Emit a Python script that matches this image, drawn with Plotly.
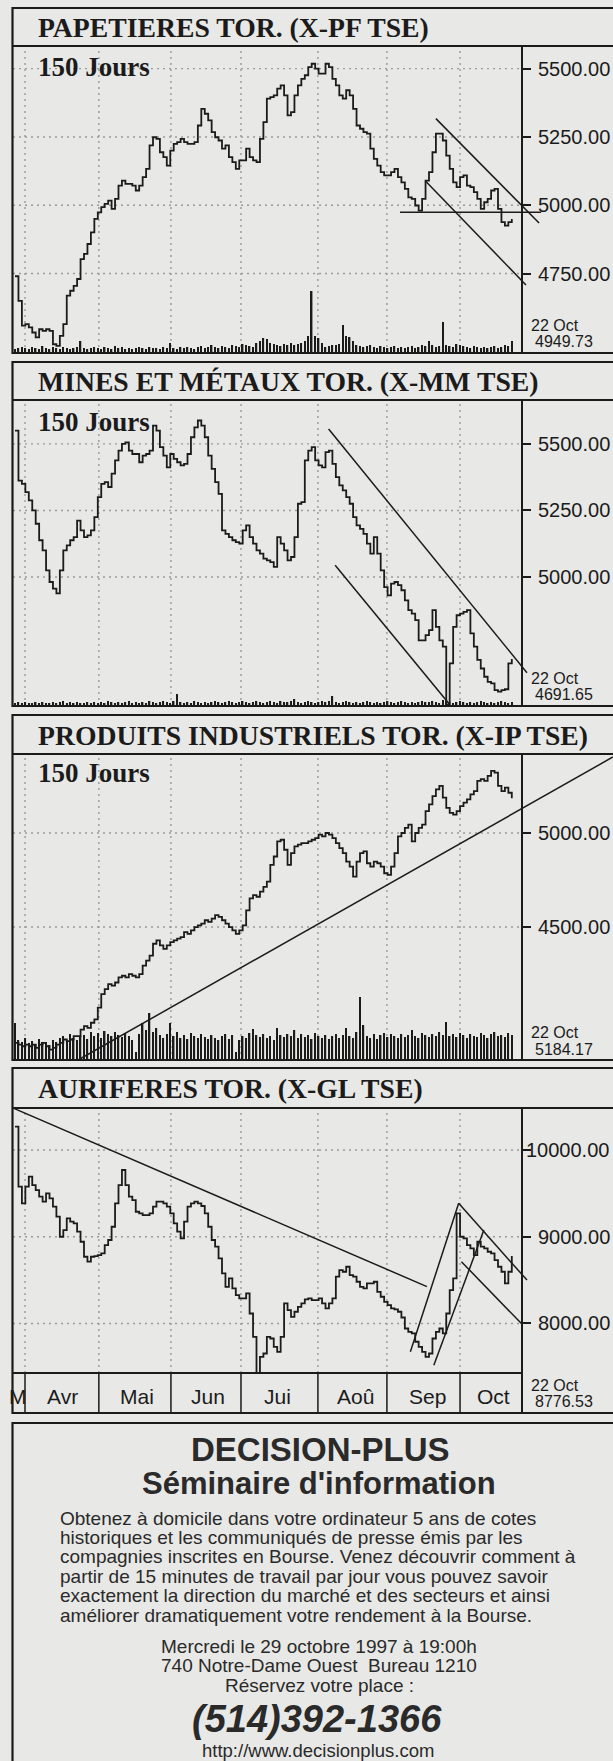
import plotly.graph_objects as go

W, H = 613, 1761
INK = "#1b1b1b"
AD_INK = "#2a2a2a"
GRID = "#9a9a9a"
BG = "#e8e8e6"
SERIF = "Liberation Serif, 'Times New Roman', serif"
SANS = "Liberation Sans, Arial, Helvetica, sans-serif"

# ---------------- data ----------------
titles = ["PAPETIERES TOR. (X-PF TSE)", "MINES ET MÉTAUX TOR. (X-MM TSE)",
          "PRODUITS INDUSTRIELS TOR. (X-IP TSE)", "AURIFERES TOR. (X-GL TSE)"]
period_label = "150 Jours"
last_date = "22 Oct"

pf_close = [4740, 4650, 4559, 4565, 4553, 4534, 4516, 4546, 4540, 4546,
            4540, 4491, 4485, 4522, 4565, 4669, 4687, 4705, 4730, 4803,
            4822, 4858, 4901, 4950, 4974, 4993, 5005, 5017, 4987, 5023,
            5072, 5090, 5078, 5078, 5072, 5054, 5072, 5103, 5133, 5219,
            5249, 5243, 5194, 5176, 5145, 5200, 5225, 5231, 5243, 5231,
            5225, 5225, 5231, 5292, 5353, 5335, 5311, 5268, 5249, 5237,
            5207, 5219, 5176, 5158, 5133, 5164, 5164, 5207, 5176, 5164,
            5158, 5243, 5304, 5390, 5396, 5402, 5427, 5439, 5402, 5329,
            5341, 5402, 5439, 5463, 5476, 5506, 5518, 5500, 5482, 5482,
            5518, 5506, 5463, 5439, 5402, 5390, 5421, 5402, 5353, 5292,
            5280, 5268, 5262, 5207, 5170, 5145, 5121, 5109, 5109, 5121,
            5133, 5103, 5084, 5060, 5029, 5023, 4999, 4980, 5023, 5090,
            5121, 5194, 5262, 5262, 5237, 5182, 5133, 5084, 5066, 5103,
            5109, 5072, 5066, 5048, 5023, 4987, 5011, 5023, 5054, 5060,
            4987, 4938, 4925, 4938, 4949.73]
pf_volume = [4, 5, 6, 5, 4, 6, 5, 4, 7, 5, 4, 6, 5, 4, 6, 5, 4, 5, 6, 12, 5,
             4, 5, 6, 5, 4, 6, 5, 4, 7, 5, 6, 4, 5, 4, 5, 6, 5, 4, 6, 5,
             5, 4, 6, 5, 10, 5, 4, 6, 5, 6, 5, 4, 6, 7, 5, 6, 8, 6, 5, 7,
             6, 5, 8, 7, 6, 9, 8, 7, 6, 10, 12, 15, 14, 10, 9, 8, 7, 9, 8, 10,
             8, 9, 10, 12, 17, 62, 17, 15, 10, 6, 7, 8, 8, 9, 28, 17, 16, 12, 8, 7,
             6, 7, 8, 6, 5, 7, 6, 5, 6, 7, 5, 6, 5, 6, 7, 5, 6, 8, 7, 12,
             8, 6, 7, 31, 8, 7, 6, 9, 8, 7, 6, 5, 7, 6, 5, 6, 5, 6, 7, 5, 6, 8, 7, 12]
pf_ticks = [4750, 5000, 5250, 5500]
pf_trends = [(111.6, 4974, 152.5, 4974), (122.0, 5317, 151.9, 4935), (118.9, 5090, 148.1, 4708)]

mm_close = [5550, 5362, 5350, 5319, 5288, 5250, 5200, 5138, 5100, 5025,
            4981, 4956, 4938, 5025, 5100, 5119, 5138, 5150, 5212, 5175,
            5150, 5156, 5175, 5225, 5300, 5350, 5356, 5338, 5388, 5438,
            5475, 5500, 5506, 5475, 5462, 5462, 5431, 5456, 5462, 5475,
            5569, 5550, 5488, 5456, 5412, 5462, 5444, 5431, 5419, 5425,
            5462, 5525, 5562, 5588, 5569, 5525, 5456, 5406, 5356, 5312,
            5175, 5162, 5150, 5138, 5131, 5125, 5175, 5194, 5150, 5125,
            5100, 5088, 5069, 5062, 5056, 5038, 5150, 5125, 5100, 5062,
            5075, 5150, 5275, 5281, 5438, 5475, 5488, 5438, 5419, 5412,
            5469, 5475, 5425, 5375, 5344, 5325, 5300, 5275, 5225, 5194,
            5181, 5162, 5125, 5088, 5150, 5088, 5025, 4962, 4931, 4975,
            4981, 4969, 4950, 4912, 4875, 4862, 4838, 4762, 4762, 4781,
            4800, 4875, 4812, 4762, 4738, 4520, 4675, 4812, 4856, 4862,
            4869, 4875, 4788, 4738, 4688, 4656, 4625, 4606, 4600, 4575,
            4569, 4575, 4578, 4675, 4691.65]
mm_volume = [3, 4, 3, 4, 3, 3, 4, 3, 4, 3, 3, 4, 3, 4, 5, 3, 4, 3, 4, 3, 3, 4, 3, 4, 3, 4, 3, 5, 4, 3,
             4, 3, 4, 5, 3, 4, 3, 4, 3, 5, 4, 3, 4, 5, 4, 3, 5, 12, 4, 3, 4, 3, 5, 4, 3, 4, 3, 4, 5, 4,
             3, 4, 5, 4, 3, 4, 5, 4, 3, 4, 5, 4, 3, 4, 5, 4, 3, 5, 4, 4, 5, 7, 4, 3, 4, 5, 4, 3, 4, 5,
             4, 5, 10, 4, 3, 4, 5, 4, 3, 4, 3, 4, 5, 4, 3, 4, 3, 4, 5, 4, 3, 4, 5, 4, 3, 4, 3, 4, 5, 4,
             4, 5, 4, 3, 6, 5, 4, 3, 4, 5, 4, 3, 4, 3, 4, 5, 4, 3, 4, 3, 4, 5, 4, 3, 4]
mm_ticks = [5000, 5250, 5500]
mm_trends = [(90.9, 5556, 148.4, 4640), (92.8, 5044, 125.7, 4525)]

ip_close = [3884, 3875, 3866, 3875, 3866, 3875, 3857, 3875, 3884, 3866,
            3848, 3857, 3875, 3884, 3902, 3893, 3902, 3920, 3920, 3955,
            3973, 3964, 3991, 4009, 4071, 4143, 4170, 4196, 4188, 4205,
            4232, 4241, 4232, 4250, 4241, 4232, 4250, 4295, 4321, 4348,
            4411, 4429, 4402, 4384, 4402, 4420, 4429, 4438, 4446, 4473,
            4464, 4482, 4500, 4509, 4518, 4536, 4527, 4545, 4563, 4554,
            4536, 4518, 4500, 4482, 4464, 4482, 4509, 4589, 4652, 4670,
            4661, 4688, 4714, 4741, 4830, 4875, 4955, 4964, 4911, 4830,
            4893, 4929, 4938, 4946, 4946, 4955, 4964, 4973, 4991, 4982,
            5000, 4991, 4973, 4946, 4920, 4893, 4848, 4821, 4768, 4848,
            4893, 4902, 4839, 4821, 4848, 4839, 4821, 4786, 4777, 4821,
            4893, 4982, 5000, 5027, 5045, 4955, 5000, 5027, 5045, 5116,
            5152, 5196, 5232, 5250, 5188, 5134, 5107, 5098, 5116, 5143,
            5161, 5179, 5205, 5223, 5277, 5286, 5277, 5304, 5330, 5321,
            5250, 5223, 5241, 5214, 5184.17]
ip_volume = [37, 20, 18, 22, 17, 19, 16, 21, 18, 17, 15, 20, 18, 22, 24, 19, 26, 22, 20, 24,
             25, 21, 28, 24, 27, 22, 29, 26, 24, 28, 25, 23, 27, 24, 20, 8, 26, 37, 30, 47,
             28, 32, 25, 22, 26, 37, 24, 28, 22, 25, 21, 27, 24, 22, 26, 23, 21, 25, 22, 20,
             24, 26, 21, 25, 8, 20, 24, 22, 27, 31, 25, 23, 26, 22, 24, 20, 32, 25, 23, 26,
             24, 30, 22, 26, 23, 25, 21, 27, 24, 22, 25, 21, 24, 26, 22, 25, 32, 24, 22, 28,
             63, 35, 24, 22, 26, 21, 25, 27, 23, 26, 24, 22, 26, 23, 25, 30, 24, 22, 27, 25,
             23, 26, 24, 28, 25, 38, 24, 26, 23, 27, 25, 22, 26, 24, 23, 27, 25, 22, 26, 28,
             24, 25, 23, 27, 25]
ip_ticks = [4500, 5000]
ip_trends = [(18.3, 3793, 173.3, 5404)]

gl_close = [10269, 9577, 9385, 9577, 9692, 9596, 9538, 9462, 9404, 9500,
            9442, 9346, 9231, 9000, 9077, 9212, 9173, 9154, 9058, 8942,
            8769, 8712, 8769, 8777, 8789, 8808, 8904, 8962, 9115, 9385,
            9596, 9769, 9596, 9462, 9423, 9288, 9269, 9250, 9250, 9269,
            9346, 9404, 9404, 9385, 9346, 9269, 9154, 9058, 8981, 9173,
            9346, 9385, 9404, 9385, 9354, 9269, 9115, 8962, 8885, 8750,
            8577, 8423, 8519, 8404, 8327, 8289, 8289, 8346, 8115, 7846,
            7420, 7615, 7654, 7846, 7827, 7731, 7673, 7846, 8231, 8154,
            8077, 8135, 8192, 8231, 8277, 8289, 8269, 8269, 8289, 8231,
            8173, 8231, 8289, 8539, 8615, 8596, 8654, 8558, 8539, 8481,
            8423, 8404, 8462, 8462, 8481, 8365, 8308, 8250, 8212, 8173,
            8162, 8135, 8069, 7942, 7904, 7885, 7789, 7731, 7673, 7615,
            7654, 7827, 7904, 7942, 7885, 8115, 8385, 8519, 9270, 9000,
            8981, 8904, 8865, 8789, 8942, 8885, 8865, 8827, 8808, 8731,
            8654, 8596, 8462, 8596, 8776.53]
gl_ticks = [8000, 9000, 10000]
gl_trends = [(-0.6, 10484, 119.4, 8425), (114.6, 7673, 128.6, 9385), (121.4, 7519, 135.9, 9077),
             (128.6, 9385, 148.4, 8500), (129.4, 8712, 147.0, 7990)]

month_labels = ["M", "Avr", "Mai", "Jun", "Jui", "Aoû", "Sep", "Oct"]
month_label_day = [0.75, 13.8, 35.4, 55.9, 76.2, 98.8, 119.7, 138.6]
month_start_day = [2.9, 24.3, 45.2, 65.5, 87.8, 107.8, 129.0]

ad_title = "DECISION-PLUS"
ad_subtitle = "Séminaire d'information"
ad_body = ["Obtenez à domicile dans votre ordinateur 5 ans de cotes",
           "historiques et les communiqués de presse émis par les",
           "compagnies inscrites en Bourse. Venez découvrir comment à",
           "partir de 15 minutes de travail par jour vous pouvez savoir",
           "exactement la direction du marché et des secteurs et ainsi",
           "améliorer dramatiquement votre rendement à la Bourse."]
ad_event = ["Mercredi le 29 octobre 1997 à 19:00h",
            "740 Notre-Dame Ouest  Bureau 1210",
            "Réservez votre place :"]
ad_phone = "(514)392-1366"
ad_url = "http://www.decisionplus.com"

# ---------------- layout helpers ----------------
def fx(px):
    return px / W


def fy(py):
    return 1 - py / H


X0_PX, DAY_PX = 15.0, 3.45
LEFT_PX, AXIS_PX = 13, 522
WIDE_LABEL_MIN = 10000   # labels this wide sit tight against the axis, as in the print


def day_at(px):
    return (px - X0_PX) / DAY_PX


panels = [
    dict(title=titles[0], close=pf_close, vol=pf_volume, ticks=pf_ticks, trends=pf_trends,
         rng=[4459, 5583], top=8, tb=46, bot=353, title_y=27, jours_y=67, last=(325, 341)),
    dict(title=titles[1], close=mm_close, vol=mm_volume, ticks=mm_ticks, trends=mm_trends,
         rng=[4515, 5665], top=362, tb=400, bot=706, title_y=381, jours_y=422, last=(679, 694)),
    dict(title=titles[2], close=ip_close, vol=ip_volume, ticks=ip_ticks, trends=ip_trends,
         rng=[3793, 5420], top=715, tb=754, bot=1060, title_y=735, jours_y=773, last=(1032, 1049)),
    dict(title=titles[3], close=gl_close, vol=None, ticks=gl_ticks, trends=gl_trends,
         rng=[7429, 10484], top=1068, tb=1108, bot=1373, band=1413, title_y=1088, jours_y=None,
         last=(1385, 1401)),
]

fig = go.Figure()
layout = {}
shapes = []
ann = []
dotted = dict(color=GRID, width=1.4, dash="2px,4px")
tickfont = dict(family=SANS, size=20, color=INK)

for k, p in enumerate(panels, start=1):
    s = "" if k == 1 else str(k)
    xa, ya = "x" + s, "y" + s
    days = list(range(len(p["close"])))
    ticktext = [f"{v:.2f}" if v < WIDE_LABEL_MIN else "" for v in p["ticks"]]
    layout["xaxis" + s] = dict(domain=[fx(LEFT_PX), 1], range=[day_at(LEFT_PX), day_at(W)],
                               visible=False, anchor=ya, fixedrange=True)
    layout["yaxis" + s] = dict(domain=[fy(p["bot"]), fy(p["tb"])], range=p["rng"],
                               anchor="free", position=fx(AXIS_PX), side="right",
                               showline=True, linewidth=2, linecolor=INK,
                               ticks="outside", ticklen=8, tickwidth=1.5, tickcolor=INK,
                               tickvals=p["ticks"], ticktext=ticktext, ticklabelstandoff=3,
                               tickfont=tickfont,
                               showgrid=False, zeroline=False, fixedrange=True)
    for v in p["ticks"]:
        if v >= WIDE_LABEL_MIN:
            ann.append(dict(xref="paper", yref=ya, x=fx(AXIS_PX + 3), y=v, xanchor="left",
                            yanchor="middle", showarrow=False, text=f"{v:.2f}", font=tickfont,
                            borderpad=0))
    # dotted grid
    for v in p["ticks"]:
        shapes.append(dict(type="line", xref=xa, yref=ya, x0=day_at(LEFT_PX), x1=day_at(AXIS_PX),
                           y0=v, y1=v, line=dotted, layer="below"))
    for m in month_start_day:
        shapes.append(dict(type="line", xref=xa, yref=ya, x0=m, x1=m,
                           y0=p["rng"][0], y1=p["rng"][1], line=dotted, layer="below"))
    if p["vol"]:
        vy = "y" + str(k + 4)
        layout["yaxis" + str(k + 4)] = dict(overlaying=ya, anchor=xa, range=[0, p["bot"] - p["tb"]],
                                            visible=False, fixedrange=True)
        fig.add_trace(go.Bar(x=days, y=p["vol"], xaxis=xa, yaxis=vy, width=0.42,
                             marker=dict(color=INK, line=dict(width=0)), hoverinfo="skip"))
    fig.add_trace(go.Scatter(x=days, y=p["close"], xaxis=xa, yaxis=ya, mode="lines",
                             line=dict(shape="hv", width=1.8, color=INK), hoverinfo="skip"))
    for (x0, y0, x1, y1) in p["trends"]:
        fig.add_trace(go.Scatter(x=[x0, x1], y=[y0, y1], xaxis=xa, yaxis=ya, mode="lines",
                                 line=dict(width=1.5, color=INK), hoverinfo="skip"))
    # frame and title band
    bottom = p.get("band", p["bot"])
    shapes.append(dict(type="rect", xref="paper", yref="paper", x0=fx(12.5), x1=fx(W + 10),
                       y0=fy(bottom), y1=fy(p["top"]), line=dict(color=INK, width=2.2)))
    shapes.append(dict(type="line", xref="paper", yref="paper", x0=fx(12.5), x1=fx(W + 10),
                       y0=fy(p["tb"]), y1=fy(p["tb"]), line=dict(color=INK, width=2.2)))
    ann.append(dict(xref="paper", yref="paper", x=fx(36), y=fy(p["title_y"]), xanchor="left",
                    yanchor="middle", showarrow=False, text="<b>" + p["title"] + "</b>",
                    font=dict(family=SERIF, size=27.7, color=INK)))
    if p["jours_y"]:
        ann.append(dict(xref="paper", yref="paper", x=fx(36), y=fy(p["jours_y"]), xanchor="left",
                        yanchor="middle", showarrow=False, text="<b>" + period_label + "</b>",
                        font=dict(family=SERIF, size=27, color=INK)))
    ann.append(dict(xref="paper", yref="paper", x=fx(529), y=fy(p["last"][0]), xanchor="left",
                    yanchor="middle", showarrow=False, text=last_date,
                    font=dict(family=SANS, size=16, color=INK)))
    ann.append(dict(xref="paper", yref="paper", x=fx(533), y=fy(p["last"][1]), xanchor="left",
                    yanchor="middle", showarrow=False, text=f"{p['close'][-1]:.2f}",
                    font=dict(family=SANS, size=16, color=INK)))

# month band of the last panel
p4 = panels[3]
shapes.append(dict(type="line", xref="paper", yref="paper", x0=fx(12.5), x1=fx(AXIS_PX),
                   y0=fy(p4["bot"]), y1=fy(p4["bot"]), line=dict(color=INK, width=2)))
shapes.append(dict(type="line", xref="paper", yref="paper", x0=fx(AXIS_PX), x1=fx(AXIS_PX),
                   y0=fy(p4["band"]), y1=fy(p4["bot"]), line=dict(color=INK, width=2)))
for m in month_start_day:
    shapes.append(dict(type="line", xref="x4", yref="paper", x0=m, x1=m,
                       y0=fy(p4["band"]), y1=fy(p4["bot"]), line=dict(color=INK, width=1.5)))
for lab, d in zip(month_labels, month_label_day):
    ann.append(dict(xref="x4", yref="paper", x=d, y=fy(1396), xanchor="center", yanchor="middle",
                    showarrow=False, text=lab, font=dict(family=SANS, size=21, color=INK)))

# advertisement box
shapes.append(dict(type="rect", xref="paper", yref="paper", x0=fx(12.5), x1=fx(W + 10),
                   y0=fy(H + 10), y1=fy(1423), line=dict(color=INK, width=2.2)))
ann.append(dict(xref="paper", yref="paper", x=fx(320), y=fy(1449), xanchor="center", yanchor="middle",
                showarrow=False, text="<b>" + ad_title + "</b>",
                font=dict(family=SANS, size=33, color=AD_INK)))
ann.append(dict(xref="paper", yref="paper", x=fx(319), y=fy(1483), xanchor="center", yanchor="middle",
                showarrow=False, text="<b>" + ad_subtitle + "</b>",
                font=dict(family=SANS, size=31, color=AD_INK)))
for i, line in enumerate(ad_body):
    ann.append(dict(xref="paper", yref="paper", x=fx(58), y=fy(1518 + i * 19.4), xanchor="left",
                    yanchor="middle", showarrow=False, text=line,
                    font=dict(family=SANS, size=19, color=AD_INK)))
for i, line in enumerate(ad_event):
    ann.append(dict(xref="paper", yref="paper", x=fx(319), y=fy(1646 + i * 19.5), xanchor="center",
                    yanchor="middle", showarrow=False, text=line,
                    font=dict(family=SANS, size=19, color=AD_INK)))
ann.append(dict(xref="paper", yref="paper", x=fx(317), y=fy(1719), xanchor="center", yanchor="middle",
                showarrow=False, text="<b><i>" + ad_phone + "</i></b>",
                font=dict(family=SANS, size=38, color=AD_INK)))
ann.append(dict(xref="paper", yref="paper", x=fx(318), y=fy(1750), xanchor="center", yanchor="middle",
                showarrow=False, text=ad_url, font=dict(family=SANS, size=18.5, color=AD_INK)))

fig.update_layout(width=W, height=H, margin=dict(l=0, r=0, t=0, b=0),
                  paper_bgcolor=BG, plot_bgcolor=BG, showlegend=False,
                  shapes=shapes, annotations=ann, **layout)
fig.write_html(
    "out.html",
    config={"displayModeBar": False, "responsive": False},
    post_script=("document.body.style.margin='0';document.body.style.padding='0';"
                 "document.body.style.overflow='hidden';"
                 "document.documentElement.style.overflow='hidden';"),
)
